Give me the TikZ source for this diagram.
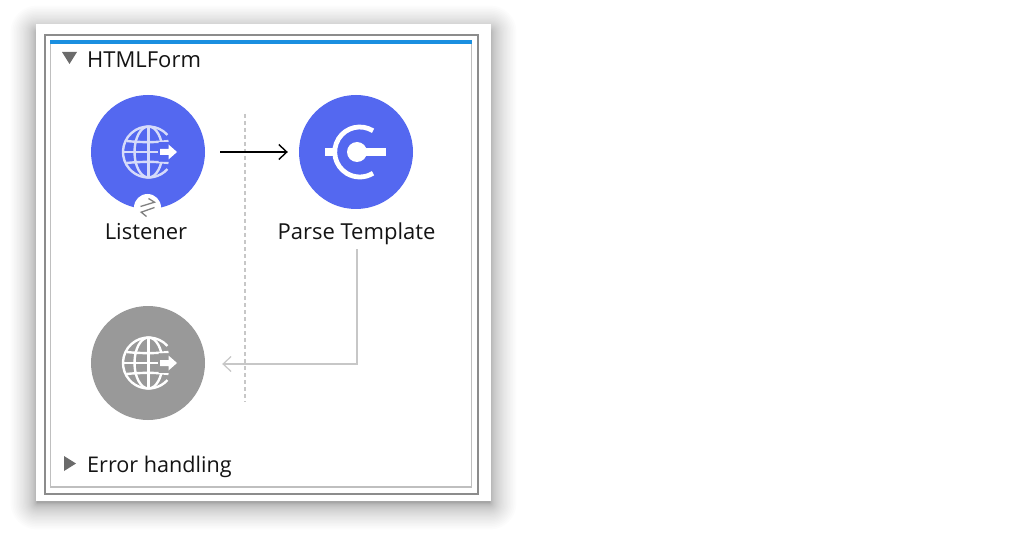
\documentclass[tikz,border=0pt]{standalone}
\usepackage{fontspec}
\setmainfont{Open Sans}
\usetikzlibrary{arrows.meta,calc}
\definecolor{flowblue}{HTML}{5468F0}
\definecolor{flowgray}{HTML}{999999}
\definecolor{globetint}{HTML}{D6DBFA}
\definecolor{topbar}{HTML}{1A8FE0}
\tikzset{
  comp/.style={circle,minimum size=114pt,inner sep=0pt,draw=none},
  lbl/.style={font=\fontsize{22}{26}\selectfont,text=black!92,inner sep=0pt,anchor=base},
  head/.style={lbl,anchor=base west},
  tri/.style={fill=black!58,draw=none},
  flowline/.style={line width=1.4pt,black,-{Straight Barb[length=8pt,width=15pt,line width=1.4pt]}},
  backline/.style={line width=1.2pt,black!22,-{Straight Barb[length=8pt,width=15pt,line width=1.2pt]}},
}
\newcommand{\globeicon}[3]{%
  \begin{scope}[shift={(#1)},draw=#2,line width=2.4pt]
    \begin{scope}
      \clip (-30,-30) rectangle (10,30) (10,-30) rectangle (30,-10) (10,10) rectangle (30,30);
      \draw (-42:25.5) arc[start angle=-42,end angle=-318,radius=25.5];
      \draw (0,-25.5) -- (0,25.5);
      \draw (0,0) ellipse[x radius=14,y radius=25.5];
      \draw (-25.5,0) -- (10,0);
      \draw (-22,-11) .. controls (-8,-9.5) and (8,-9.5) .. (20,-11);
      \draw (-22,11) .. controls (-8,9.5) and (8,9.5) .. (20,11);
    \end{scope}
    \fill[#3] (11.5,-3) rectangle (20,3) (20,-7.5) -- (28.5,0) -- (20,7.5) -- cycle;
  \end{scope}}
\begin{document}
\begin{tikzpicture}[x=1pt,y=-1pt]
\useasboundingbox (0,0) rectangle (1024,537);
\fill[white] (0,0) rectangle (1024,537);
% shadow
\foreach \i in {1,...,30}{
  \pgfmathsetmacro{\e}{\i*\i/34}
  \fill[black,opacity=0.012,rounded corners={\e pt}] ({37-\e},{32-\e}) rectangle ({490+\e},{503+\e});
}
\fill[white] (36,24) rectangle (491,501);
% frame
\draw[line width=2pt,black!45] (44.5,35) rectangle (478,494);
\draw[line width=1.6pt,black!25] (50.5,41) rectangle (471.5,487);
\fill[topbar] (50,40.5) rectangle (472,44);
% section headers
\fill[tri] (62,52) -- (77,52) -- (69.5,64) -- cycle;
\node[head] (htmlform) at (87,67.5) {HTMLForm};
\fill[tri] (64,456) -- (76,463.5) -- (64,471) -- cycle;
\node[head,font=\fontsize{21.6}{26}\selectfont] (errorh) at (87,472) {Error handling};
% dashed separator
\coordinate (dashtop) at (245,114);
\coordinate (dashbot) at (245,402);
\draw[line width=1.3pt,black!22,dash pattern=on 4pt off 3pt] (dashtop) -- (dashbot);
% components
\node[comp,fill=flowblue] (listener) at (148,152) {};
\node[comp,fill=flowblue] (parse) at (356,152) {};
\node[comp,fill=flowgray] (source) at (148,363) {};
\node[lbl] (listenerlbl) at (146,240) {Listener};
\node[lbl] (parselbl) at (356.5,240) {Parse Template};
% icons
\globeicon{148.5,152}{globetint}{white}
\globeicon{148.5,363}{white}{white}
\begin{scope}[shift={(parse.center)}]
  \draw[white,line width=4.8pt] (17,-21.2) arc[start angle=-58,end angle=-302,radius=25];
  \fill[white] (-31,-4) rectangle (-22,4);
  \fill[white] (1,0) circle (10);
  \fill[white] (1,-4) rectangle (30,4);
\end{scope}
% streaming badge
\node[circle,fill=white,minimum size=27pt,inner sep=0pt] (badge) at (147.5,207.5) {};
\begin{scope}[shift={(badge.center)},line width=1.3pt,black!50]
  \draw (-7,-1) -- (7,-5.3) -- (1,-9);
  \draw (7,0) -- (-6.3,4.7) -- (-1,9);
\end{scope}
% connectors
\draw[flowline,shorten <=15pt,shorten >=11pt] (listener) -- (parse);
\coordinate (backstart) at ($(parselbl.south)+(0.5,4)$);
\coordinate (backend) at ($(source.east)+(0,1)$);
\draw[backline,shorten >=17pt] (backstart) -- (backstart |- backend) -- (backend);
\end{tikzpicture}
\end{document}
